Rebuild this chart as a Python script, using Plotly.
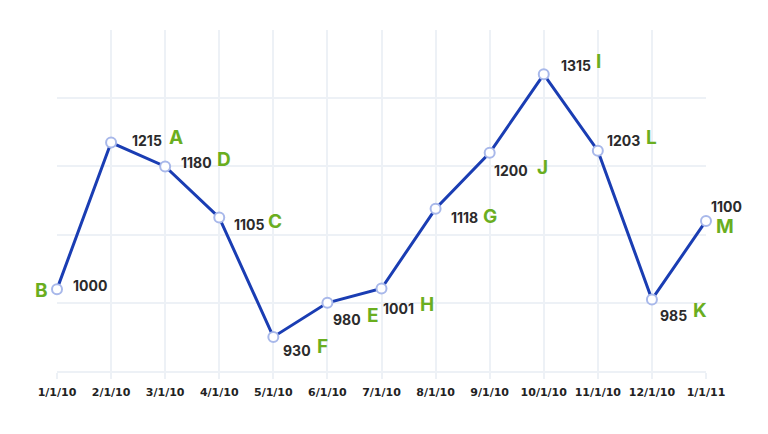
import plotly.graph_objects as go

# data
dates = ["1/1/10", "2/1/10", "3/1/10", "4/1/10", "5/1/10", "6/1/10", "7/1/10",
         "8/1/10", "9/1/10", "10/1/10", "11/1/10", "12/1/10", "1/1/11"]
values = [1000, 1215, 1180, 1105, 930, 980, 1001, 1118, 1200, 1315, 1203, 985, 1100]
letters = ["B", "A", "D", "C", "F", "E", "H", "G", "J", "I", "L", "K", "M"]

# label offsets in pixels (dx, dy down)
num_off = [(33, -4), (36, -2), (31, -4), (30, 7), (24, 14), (20, 17), (17, 20),
           (29, 9), (21, 18), (32, -9), (26, -10), (22, 16), (20, -14)]
let_off = [(-16, 1), (65, -5), (59, -7), (56, 4), (49, 10), (46, 13), (45, 16),
           (54, 8), (53, 15), (55, -13), (54, -13), (48, 11), (19, 6)]

grid_col = "#edf1f6"
font_name = "Inter"

fig = go.Figure()
fig.add_trace(go.Scatter(
    x=dates, y=values, mode="lines+markers",
    line=dict(color="#1a3db3", width=3),
    marker=dict(size=10, color="white", line=dict(color="#a8b8ea", width=2)),
    cliponaxis=False, hoverinfo="skip",
))

annotations = []
for i, d in enumerate(dates):
    dx, dy = num_off[i]
    annotations.append(dict(
        x=d, y=values[i], text=str(values[i]), showarrow=False,
        xshift=dx, yshift=-dy,
        font=dict(family=font_name, size=14, color="#2b2b2b", weight=700),
    ))
    lx, ly = let_off[i]
    annotations.append(dict(
        x=d, y=values[i], text=letters[i], showarrow=False,
        xshift=lx, yshift=-ly,
        font=dict(family=font_name, size=19, color="#6aae1f", weight=700),
    ))

# page body adds an 8px offset, so the figure is 8px smaller
fig.update_layout(
    width=760, height=426,
    margin=dict(l=49, r=62, t=22, b=63),
    paper_bgcolor="white", plot_bgcolor="white",
    showlegend=False,
    annotations=annotations,
    xaxis=dict(
        type="category", range=[0, 12],
        showgrid=True, gridcolor=grid_col, gridwidth=2,
        showline=True, linecolor=grid_col, linewidth=2,
        ticks="outside", ticklen=6, tickcolor=grid_col, tickwidth=2,
        ticklabelstandoff=4,
        tickfont=dict(family="DejaVu Sans", size=11, color="#222222", weight=700),
        zeroline=False,
    ),
    yaxis=dict(
        range=[880, 1380], tick0=880, dtick=100,
        showgrid=True, gridcolor=grid_col, gridwidth=2,
        showticklabels=False, zeroline=False, showline=False,
    ),
)

fig.write_html("out.html")
